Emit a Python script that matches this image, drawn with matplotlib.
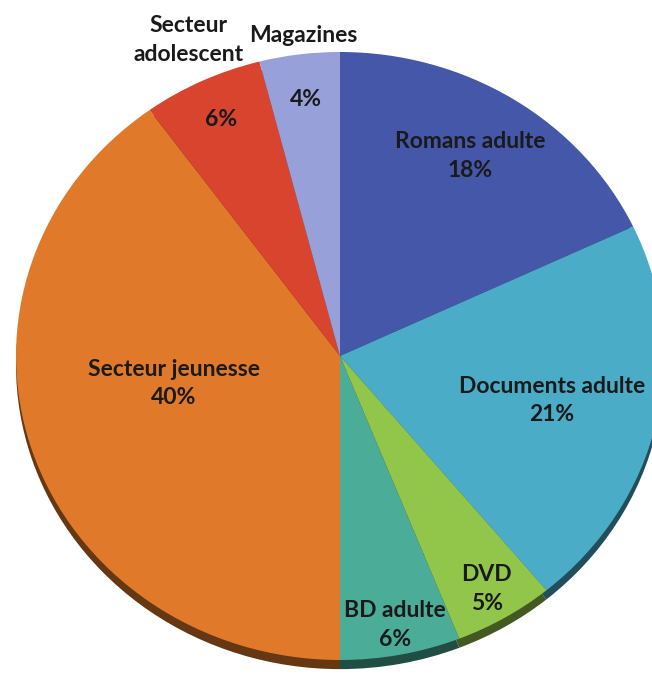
import numpy as np
import matplotlib.pyplot as plt
from matplotlib.colors import to_rgb

plt.rcParams['font.family'] = ['Lato', 'DejaVu Sans']

# Données du camembert (sens horaire depuis midi)
categories = ["Romans adulte", "Documents adulte", "DVD", "BD adulte",
              "Secteur jeunesse", "Secteur\nadolescent", "Magazines"]
valeurs = [18, 21, 5, 6, 40, 6, 4]
couleurs = ["#4557A9", "#4BACC8", "#92C64A", "#4BAC98",
            "#E07A2A", "#D9442E", "#97A0D8"]

# distance des étiquettes (fraction du rayon) et décalage d'angle
dist_label = [0.77, 0.67, 0.89, 0.90, 0.52, 0.86, 0.85]
decal_angle = [1, 0, 0, 0, -8, 0, 0]
# étiquettes de nom placées hors du camembert (None = dans la part)
dist_nom = [None, None, None, None, None, 1.14, 1.06]

W, H = 652, 674
cx, cy = 340, 356      # centre en pixels (depuis le haut)
rx, ry = 324, 304      # rayons de l'ellipse en pixels

fig = plt.figure(figsize=(W / 100, H / 100), dpi=100)
ax = fig.add_axes([0, 0, 1, 1])

# bord 3D sombre sous le camembert
sombres = [tuple(c * 0.45 for c in to_rgb(col)) for col in couleurs]
ax.pie(valeurs, colors=sombres, startangle=90, counterclock=False,
       radius=1, center=(0, -0.03), wedgeprops=dict(linewidth=0))
wedges, _ = ax.pie(valeurs, colors=couleurs, startangle=90, counterclock=False,
                   radius=1, center=(0, 0), wedgeprops=dict(linewidth=0))

ax.set_aspect('auto')
ax.set_xlim(-cx / rx, (W - cx) / rx)
ax.set_ylim(-(H - cy) / ry, cy / ry)
ax.axis('off')

style = dict(ha='center', va='center', fontsize=16.5, fontweight='bold',
             color='#1a1a1a', linespacing=1.45)

total = sum(valeurs)
for w, nom, v, d, da, dn in zip(wedges, categories, valeurs, dist_label,
                                decal_angle, dist_nom):
    mid = np.deg2rad((w.theta1 + w.theta2) / 2 + da)
    pct = f"{round(100 * v / total)}%"
    if dn is None:
        ax.text(d * np.cos(mid), d * np.sin(mid), nom + "\n" + pct, **style)
    else:
        ax.text(d * np.cos(mid), d * np.sin(mid), pct, **style)
        a2 = mid - np.deg2rad(1)
        ax.text(dn * np.cos(a2), dn * np.sin(a2), nom, **style)

fig.savefig("out.png", dpi=100)
